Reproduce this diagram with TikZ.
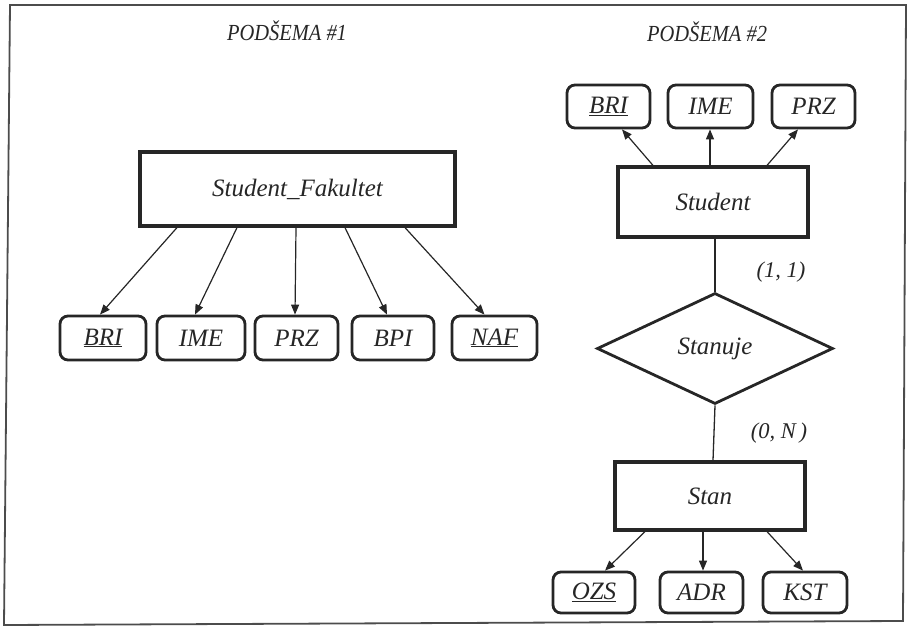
\documentclass[tikz,border=0pt]{standalone}
\usepackage{fontspec}
\setmainfont{Liberation Serif}
\usetikzlibrary{arrows.meta,shapes.geometric}
\newcommand{\narrowtitle}[1]{\scalebox{0.89}[1]{#1}}
\begin{document}
\begin{tikzpicture}[x=1pt,y=-1pt,
  lbl/.style={font=\fontsize{25}{29}\selectfont\itshape, text=black!85},
  ttl/.style={font=\fontsize{23}{27}\selectfont\itshape, text=black!85},
  card/.style={font=\fontsize{22.5}{26}\selectfont\itshape, text=black!85},
  entity/.style={lbl, draw=black!85, line width=3.2pt, rectangle, inner sep=0pt},
  attr/.style={lbl, draw=black!85, line width=2.8pt, rectangle, rounded corners=8pt,
               inner sep=0pt, minimum height=44pt},
  rel/.style={lbl, draw=black!85, line width=2.8pt, diamond, aspect=2, inner sep=0pt,
              minimum width=236pt, minimum height=111pt},
  arr/.style={draw=black!85, line width=1.2pt, -{Triangle[length=10pt,width=8pt]}},
  link/.style={draw=black!85, line width=1.3pt},
  frame/.style={draw=black!70, line width=1.8pt}]

\useasboundingbox (0,0) rectangle (907,628);

% outer frame
\draw[frame] (10,5) -- (906,5) -- (903,621) -- (4,625) -- cycle;

% titles
\node[ttl] (t1) at (287,31) {\narrowtitle{PODŠEMA \#1}};
\node[ttl] (t2) at (707,32) {\narrowtitle{PODŠEMA \#2}};

% ---- first subschema
\node[entity, minimum width=315pt, minimum height=74pt] (sf) at (297.5,189) {Student\_Fakultet};

\node[attr, minimum width=86pt] (bri) at (103,338)   {\underline{BRI}};
\node[attr, minimum width=88pt] (ime) at (201,338)   {IME};
\node[attr, minimum width=83pt] (prz) at (296.5,338) {PRZ};
\node[attr, minimum width=82pt] (bpi) at (393,338)   {BPI};
\node[attr, minimum width=85pt] (naf) at (494.5,338) {\underline{NAF}};

\draw[arr] ([xshift=-120.5pt]sf.south) -- ([xshift=-3pt]bri.north);
\draw[arr] ([xshift=-60.5pt]sf.south)  -- ([xshift=-6pt]ime.north);
\draw[arr] ([xshift=-1.5pt]sf.south)   -- ([xshift=-1.5pt]prz.north);
\draw[arr] ([xshift=47.5pt]sf.south)   -- ([xshift=-6pt]bpi.north);
\draw[arr] ([xshift=107.5pt]sf.south)  -- ([xshift=-10pt]naf.north);

% ---- second subschema
\node[attr, minimum width=83pt, minimum height=43pt] (bri2) at (608.5,106.5) {\underline{BRI}};
\node[attr, minimum width=85pt, minimum height=43pt] (ime2) at (710.5,106.5) {IME};
\node[attr, minimum width=83pt, minimum height=43pt] (prz2) at (813.5,106.5) {PRZ};

\node[entity, minimum width=190pt, minimum height=70pt] (st) at (713,202) {Student};

\draw[arr] ([xshift=-60pt]st.north) -- ([xshift=13.5pt]bri2.south);
\draw[arr] ([xshift=-3pt]st.north)  -- ([xshift=-0.5pt]ime2.south);
\draw[arr] ([xshift=54pt]st.north)  -- ([xshift=-15.5pt]prz2.south);

\node[rel] (sn) at (715,348.5) {Stanuje};
\draw[link] ([xshift=2pt]st.south) -- (sn.north);
\node[card] (c1) at (781,272) {(1, 1)};

\node[entity, minimum width=190pt, minimum height=68pt] (stan) at (710,496) {Stan};
\draw[link] (sn.south) -- ([xshift=3pt]stan.north);
\node[card] (c2) at (779,433) {(0, N\,)};

\node[attr, minimum width=82pt, minimum height=41pt] (ozs) at (594,592.5)   {\underline{OZS}};
\node[attr, minimum width=83pt, minimum height=41pt] (adr) at (701.5,592.5) {ADR};
\node[attr, minimum width=84pt, minimum height=41pt] (kst) at (805,592.5)   {KST};

\draw[arr] ([xshift=-65pt]stan.south) -- ([xshift=11pt]ozs.north);
\draw[arr] ([xshift=-7pt]stan.south)  -- ([xshift=1.5pt]adr.north);
\draw[arr] ([xshift=57pt]stan.south)  -- ([xshift=-2pt]kst.north);
\end{tikzpicture}
\end{document}
